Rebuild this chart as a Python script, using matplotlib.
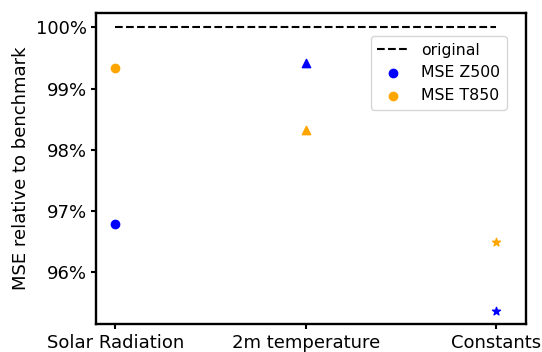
import numpy as np
import matplotlib.pyplot as plt
from matplotlib.ticker import FuncFormatter

plt.rcParams.update({
    "font.size": 13,
    "axes.linewidth": 1.7,
    "xtick.major.width": 1.5,
    "ytick.major.width": 1.5,
})

# Data
categories = ["Solar Radiation", "2m temperature", "Constants"]
mse_z500 = [96.78, 99.42, 95.36]
mse_t850 = [99.33, 98.32, 96.49]
markers = ["o", "^", "*"]

fig, ax = plt.subplots(figsize=(5.42, 3.52), dpi=100)
fig.subplots_adjust(left=0.178, right=0.971, top=0.962, bottom=0.08)

x = np.arange(len(categories))
ax.plot([x[0], x[-1]], [100, 100], "k--", label="original")
for i in range(len(categories)):
    ax.scatter(x[i], mse_z500[i], color="blue", marker=markers[i],
               label="MSE Z500" if i == 0 else None)
    ax.scatter(x[i], mse_t850[i], color="orange", marker=markers[i],
               label="MSE T850" if i == 0 else None)

ax.set_xticks(x)
ax.set_xticklabels(categories)
ax.set_xlim(-0.1, 2.16)
ax.set_ylim(95.15, 100.23)
ax.set_yticks([96, 97, 98, 99, 100])
ax.yaxis.set_major_formatter(FuncFormatter(lambda v, p: f"{v:.0f}%"))
ax.set_ylabel("MSE relative to benchmark")
ax.legend(loc="upper right", fontsize=11.3, bbox_to_anchor=(0.954, 0.926),
          borderaxespad=0)

fig.savefig("out.png")
